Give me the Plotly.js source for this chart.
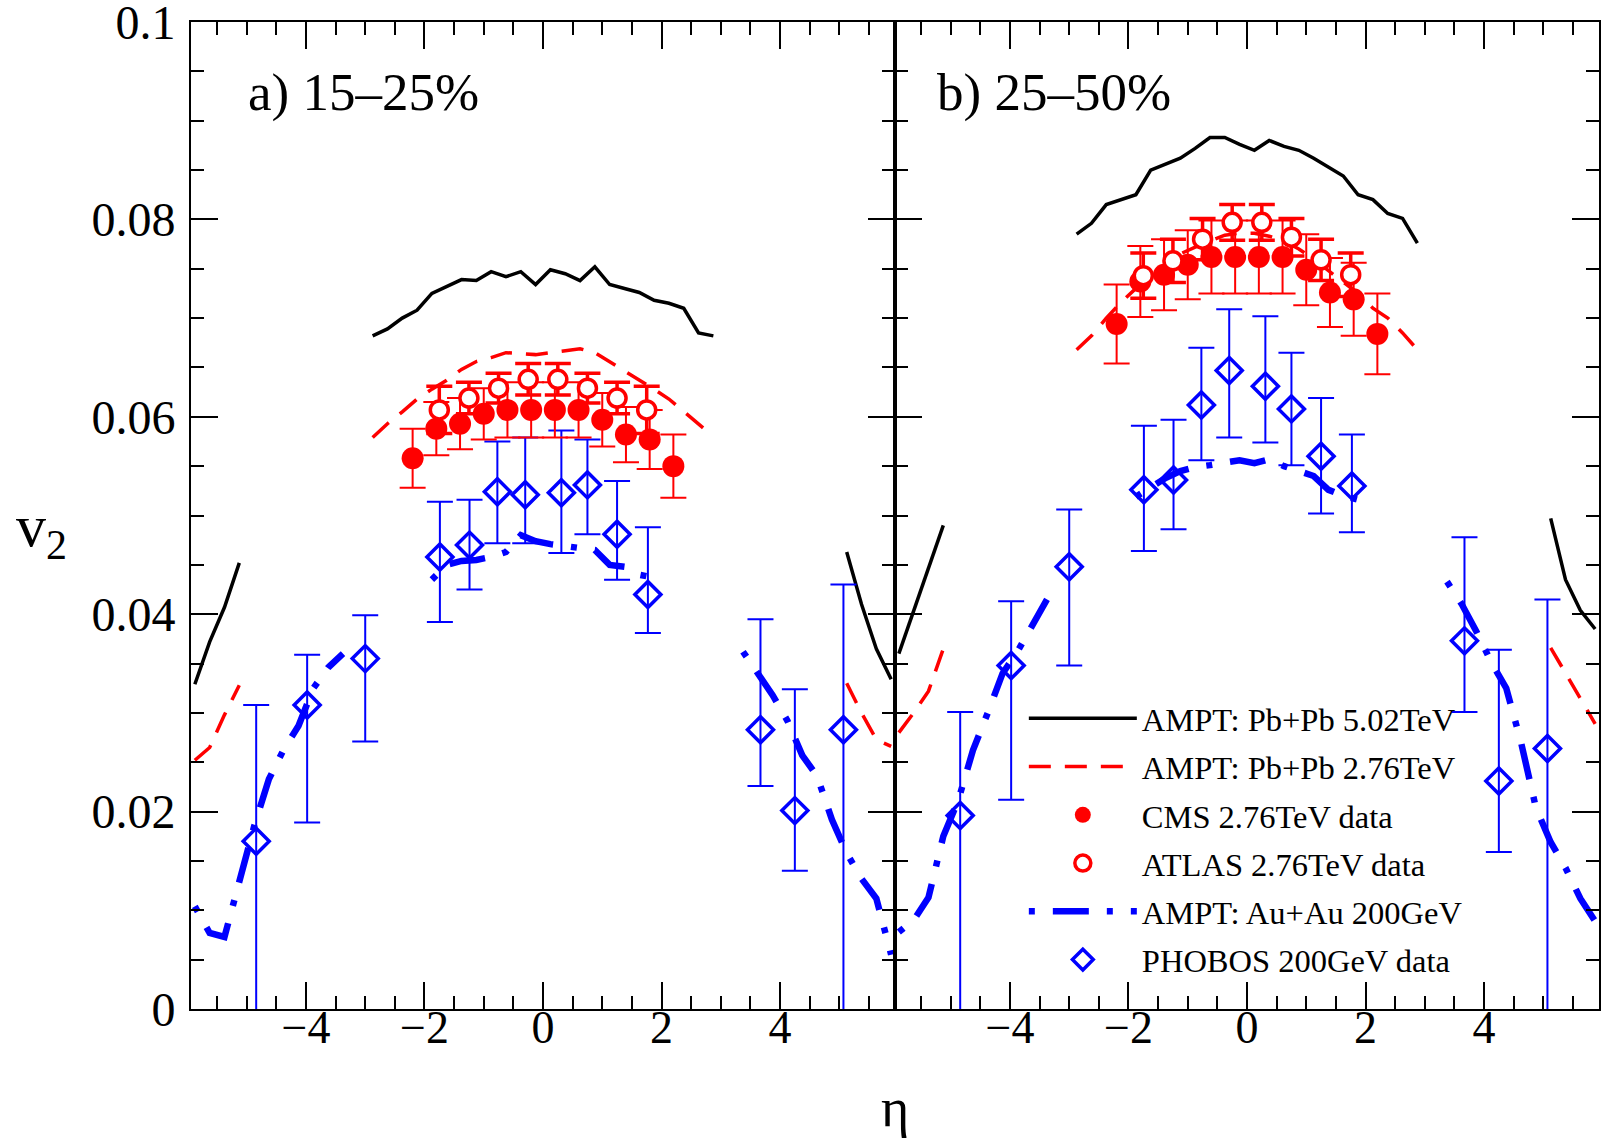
<!DOCTYPE html>
<html><head><meta charset="utf-8">
<script src="https://cdn.plot.ly/plotly-3.0.1.min.js"></script>
<style>html,body{margin:0;padding:0;background:#fff}</style>
</head><body><div id="chart" style="width:1607px;height:1140px"></div>
<script>
// ---------- eta grids for the AMPT curves ----------
const etaWingL = [-5.875,-5.625,-5.375,-5.125];
const etaWingR = [5.125,5.375,5.625,5.875];
const etaMid = [-2.875,-2.625,-2.375,-2.125,-1.875,-1.625,-1.375,-1.125,-0.875,-0.625,-0.375,-0.125,
                0.125,0.375,0.625,0.875,1.125,1.375,1.625,1.875,2.125,2.375,2.625,2.875];
const etaBlueL = [-5.875,-5.625,-5.375,-5.125,-4.875,-4.625,-4.375,-4.125,-3.875,-3.625,-3.375];
const etaBlueMid = [-1.875,-1.625,-1.375,-1.125,-0.875,-0.625,-0.375,-0.125,0.125,0.375,0.625,0.875,1.125,1.375,1.625,1.875];
const etaBlueR = [3.375,3.625,3.875,4.125,4.375,4.625,4.875,5.125,5.375,5.625,5.875];

// ---------- panel a) 15-25% ----------
const pb502_a_L = [0.0329,0.0372,0.0407,0.0452];
const pb502_a_M = [0.0682,0.0689,0.0700,0.0708,0.0725,0.0732,0.0739,0.0738,0.0747,0.0742,0.0747,0.0734,
                   0.0749,0.0745,0.0738,0.0752,0.0734,0.0730,0.0726,0.0718,0.0715,0.0710,0.0685,0.0682];
const pb502_a_R = [0.0463,0.0410,0.0365,0.0334];
const pb276_a_L = [0.0252,0.0265,0.0298,0.0328];
const pb276_a_M = [0.0579,0.0593,0.0605,0.0618,0.0628,0.0637,0.0648,0.0656,0.0660,0.0665,0.0664,0.0663,
                   0.0665,0.0667,0.0669,0.0665,0.0656,0.0647,0.0637,0.0628,0.0618,0.0605,0.0592,0.0580];
const pb276_a_R = [0.0330,0.0300,0.0273,0.0266];
const auau_a_L = [0.0104,0.0077,0.0073,0.0130,0.0185,0.0233,0.0263,0.0287,0.0325,0.0346,0.0360];
const auau_a_M = [0.0435,0.0450,0.0454,0.0455,0.0458,0.0463,0.0480,0.0474,0.0471,0.0469,0.0467,0.0465,0.0450,0.0448,0.0440,0.0437];
const auau_a_R = [0.0362,0.0340,0.0318,0.0292,0.0257,0.0236,0.0192,0.0158,0.0132,0.0112,0.0055];

// ---------- panel b) 25-50% ----------
const pb502_b_L = [0.0360,0.0403,0.0447,0.0490];
const pb502_b_M = [0.0785,0.0796,0.0815,0.0820,0.0825,0.0850,0.0856,0.0862,0.0872,0.0883,0.0883,0.0876,
                   0.0870,0.0880,0.0874,0.0870,0.0862,0.0853,0.0844,0.0825,0.0820,0.0806,0.0801,0.0776];
const pb502_b_R = [0.0497,0.0435,0.0404,0.0385];
const pb276_b_L = [0.0280,0.0300,0.0322,0.0365];
const pb276_b_M = [0.0668,0.0682,0.0700,0.0716,0.0730,0.0740,0.0750,0.0765,0.0772,0.0778,0.0784,0.0786,
                   0.0786,0.0783,0.0778,0.0770,0.0760,0.0748,0.0737,0.0725,0.0710,0.0700,0.0685,0.0668];
const pb276_b_R = [0.0366,0.0340,0.0314,0.0289];
const auau_b_L = [0.0078,0.0090,0.0113,0.0175,0.0211,0.0262,0.0300,0.0340,0.0362,0.0389,0.0415];
const auau_b_M = [0.0519,0.0528,0.0538,0.0545,0.0549,0.0551,0.0553,0.0556,0.0553,0.0557,0.0550,0.0545,0.0540,0.0526,0.0520,0.0516];
const auau_b_R = [0.0433,0.0410,0.0382,0.0351,0.0325,0.0270,0.0204,0.0169,0.0143,0.0112,0.0089];

// ---------- data points ----------
const cmsEta = [-2.2,-1.8,-1.4,-1.0,-0.6,-0.2,0.2,0.6,1.0,1.4,1.8,2.2];
const cms_a = [0.0558,0.0588,0.0593,0.0603,0.0607,0.0607,0.0607,0.0607,0.0597,0.0582,0.0577,0.0550];
const cms_a_err = [0.0030,0.0027,0.0026,0.0026,0.0028,0.0028,0.0028,0.0028,0.0027,0.0028,0.0030,0.0032];
const cms_b = [0.0694,0.0737,0.0744,0.0754,0.0762,0.0762,0.0762,0.0762,0.0749,0.0726,0.0719,0.0684];
const cms_b_err = [0.0040,0.0036,0.0036,0.0035,0.0037,0.0037,0.0037,0.0037,0.0036,0.0035,0.0037,0.0041];

const atlasEta = [-1.75,-1.25,-0.75,-0.25,0.25,0.75,1.25,1.75];
const atlas_a = [0.0607,0.0619,0.0629,0.0638,0.0638,0.0629,0.0619,0.0607];
const atlas_a_err = [0.0024,0.0016,0.0015,0.0016,0.0016,0.0015,0.0016,0.0024];
const atlas_b = [0.0743,0.0758,0.0780,0.0797,0.0797,0.0782,0.0759,0.0744];
const atlas_b_err = [0.0023,0.0022,0.0021,0.0018,0.0018,0.0019,0.0021,0.0022];

const phobosEta = [-4.84,-3.98,-3.0,-1.74,-1.24,-0.77,-0.30,0.31,0.75,1.25,1.77,3.67,4.25,5.07];
const phobos_a = [0.0170,0.0308,0.0355,0.0458,0.0470,0.0524,0.0521,0.0523,0.0531,0.0481,0.0420,0.0283,0.0201,0.0283];
const phobos_a_up = [0.0138,0.0051,0.0044,0.0056,0.0046,0.0051,0.0058,0.0063,0.0046,0.0054,0.0068,0.0112,0.0123,0.0147];
const phobos_a_dn = [0.0250,0.0119,0.0084,0.0066,0.0045,0.0052,0.0049,0.0061,0.0050,0.0046,0.0039,0.0057,0.0061,0.0350];
const phobos_b = [0.0196,0.0348,0.0448,0.0526,0.0536,0.0612,0.0647,0.0631,0.0608,0.0560,0.0530,0.0373,0.0231,0.0264];
const phobos_b_up = [0.0105,0.0065,0.0058,0.0065,0.0061,0.0058,0.0062,0.0071,0.0057,0.0059,0.0052,0.0105,0.0133,0.0151];
const phobos_b_dn = [0.0250,0.0136,0.0100,0.0062,0.0050,0.0056,0.0068,0.0057,0.0057,0.0058,0.0047,0.0072,0.0072,0.0350];

// ---------- axis ticks ----------
const yTickVals = [0, 0.02, 0.04, 0.06, 0.08, 0.1];
const yTickText = ['0', '0.02', '0.04', '0.06', '0.08', '0.1'];
const xTickVals = [-4, -2, 0, 2, 4];
const xTickText = ['\u22124', '\u22122', '0', '2', '4'];

const legendNames = ['AMPT: Pb+Pb 5.02TeV','AMPT: Pb+Pb 2.76TeV','CMS 2.76TeV data','ATLAS 2.76TeV data','AMPT: Au+Au 200GeV','PHOBOS 200GeV data'];

// ---------- helpers ----------
function joinSeg(xs, ys) {
  const X = [], Y = [];
  xs.forEach((xa, i) => {
    if (i > 0) { X.push(null); Y.push(null); }
    X.push(...xa); Y.push(...ys[i]);
  });
  return {x: X, y: Y};
}

const RED = '#ff0000', BLUE = '#0000ff';
const lineBlack = {color: '#000', width: 3.5};
const lineRed = {color: RED, width: 3.5, dash: '22px,14px'};
const lineBlue = {color: BLUE, width: 6.5, dash: '6px,18px,36px,18px'};

function panelTraces(ax, ay, d, showLeg) {
  const t = [];
  const k = joinSeg([etaWingL, etaMid, etaWingR], [d.pb502L, d.pb502M, d.pb502R]);
  t.push({type:'scatter', mode:'lines', x:k.x, y:k.y, xaxis:ax, yaxis:ay, connectgaps:false,
          line:lineBlack, name:legendNames[0], legendrank:1, showlegend:showLeg, legendgroup:'g1'});
  const r = joinSeg([etaWingL, etaMid, etaWingR], [d.pb276L, d.pb276M, d.pb276R]);
  t.push({type:'scatter', mode:'lines', x:r.x, y:r.y, xaxis:ax, yaxis:ay, connectgaps:false,
          line:lineRed, name:legendNames[1], legendrank:2, showlegend:showLeg, legendgroup:'g2'});
  const b = joinSeg([etaBlueL, etaBlueMid, etaBlueR], [d.auauL, d.auauM, d.auauR]);
  t.push({type:'scatter', mode:'lines', x:b.x, y:b.y, xaxis:ax, yaxis:ay, connectgaps:false,
          line:lineBlue, name:legendNames[4], legendrank:5, showlegend:showLeg, legendgroup:'g5'});
  t.push({type:'scatter', mode:'markers', x:phobosEta, y:d.phobos, xaxis:ax, yaxis:ay,
          marker:{symbol:'diamond-open', size:20, color:BLUE, line:{width:3.5, color:BLUE}},
          error_y:{type:'data', symmetric:false, array:d.phobosUp, arrayminus:d.phobosDn, color:BLUE, thickness:2, width:13},
          name:legendNames[5], legendrank:6, showlegend:showLeg, legendgroup:'g6'});
  t.push({type:'scatter', mode:'markers', x:cmsEta, y:d.cms, xaxis:ax, yaxis:ay,
          marker:{symbol:'circle', size:22, color:RED, line:{width:0}},
          error_y:{type:'data', array:d.cmsErr, color:RED, thickness:2, width:13},
          name:legendNames[2], legendrank:3, showlegend:showLeg, legendgroup:'g3'});
  t.push({type:'scatter', mode:'markers', x:atlasEta, y:d.atlas, xaxis:ax, yaxis:ay,
          marker:{symbol:'circle', size:18, color:'#ffffff', line:{width:3.5, color:RED}},
          error_y:{type:'data', array:d.atlasErr, color:RED, thickness:3.5, width:13},
          name:legendNames[3], legendrank:4, showlegend:showLeg, legendgroup:'g4'});
  return t;
}

const data = [].concat(
  panelTraces('x','y', {pb502L:pb502_a_L, pb502M:pb502_a_M, pb502R:pb502_a_R,
                        pb276L:pb276_a_L, pb276M:pb276_a_M, pb276R:pb276_a_R,
                        auauL:auau_a_L, auauM:auau_a_M, auauR:auau_a_R,
                        phobos:phobos_a, phobosUp:phobos_a_up, phobosDn:phobos_a_dn,
                        cms:cms_a, cmsErr:cms_a_err, atlas:atlas_a, atlasErr:atlas_a_err}, true),
  panelTraces('x2','y2', {pb502L:pb502_b_L, pb502M:pb502_b_M, pb502R:pb502_b_R,
                        pb276L:pb276_b_L, pb276M:pb276_b_M, pb276R:pb276_b_R,
                        auauL:auau_b_L, auauM:auau_b_M, auauR:auau_b_R,
                        phobos:phobos_b, phobosUp:phobos_b_up, phobosDn:phobos_b_dn,
                        cms:cms_b, cmsErr:cms_b_err, atlas:atlas_b, atlasErr:atlas_b_err}, false)
);

const FONT = 'Liberation Serif';
const xCommon = {
  range:[-5.94,5.94], tickmode:'array', tickvals:xTickVals, ticktext:xTickText,
  ticks:'inside', ticklen:27, tickwidth:2, tickcolor:'#000',
  minor:{ticks:'inside', dtick:0.5, tick0:0, ticklen:13, tickwidth:2, tickcolor:'#000'},
  showline:true, linecolor:'#000', linewidth:2, mirror:'allticks',
  showgrid:false, zeroline:false, ticklabeloverflow:'allow',
  tickfont:{family:FONT, size:46, color:'#000'}, ticklabelstandoff:-23
};
const yCommon = {
  range:[0,0.1], tickmode:'array', tickvals:yTickVals, ticktext:yTickText,
  ticks:'inside', ticklen:27, tickwidth:2, tickcolor:'#000',
  minor:{ticks:'inside', dtick:0.005, tick0:0, ticklen:13, tickwidth:2, tickcolor:'#000'},
  showline:true, linecolor:'#000', linewidth:2, mirror:'allticks',
  showgrid:false, zeroline:false, ticklabeloverflow:'allow',
  tickfont:{family:FONT, size:48, color:'#000'}, ticklabelstandoff:4
};

const layout = {
  width:1607, height:1140,
  margin:{l:191, r:8, t:22, b:131, pad:0},
  paper_bgcolor:'#fff', plot_bgcolor:'#fff',
  font:{family:FONT, color:'#000'},
  xaxis: Object.assign({}, xCommon, {domain:[0,0.5], anchor:'y'}),
  xaxis2: Object.assign({}, xCommon, {domain:[0.5,1], anchor:'y2'}),
  yaxis: Object.assign({}, yCommon, {anchor:'x'}),
  yaxis2: Object.assign({}, yCommon, {anchor:'x2', matches:'y', showticklabels:false}),
  showlegend:true,
  legend:{x:0.5915, y:0.3225, xanchor:'left', yanchor:'top', bgcolor:'rgba(0,0,0,0)',
          font:{family:FONT, size:32.5, color:'#000'}, itemwidth:108, traceorder:'grouped',
          tracegroupgap:3},
  annotations:[
    {text:'a) 15\u201325%', xref:'paper', yref:'paper', x:0.0390, y:0.929, xanchor:'left', yanchor:'middle',
     showarrow:false, font:{family:FONT, size:53, color:'#000'}},
    {text:'b) 25\u201350%', xref:'paper', yref:'paper', x:0.5285, y:0.929, xanchor:'left', yanchor:'middle',
     showarrow:false, font:{family:FONT, size:53, color:'#000'}},
    {text:'\u03b7', xref:'paper', yref:'paper', x:0.5, y:-0.100, xanchor:'center', yanchor:'middle',
     showarrow:false, font:{family:FONT, size:54, color:'#000'}},
    {text:'v<sub>2</sub>', xref:'paper', yref:'paper', x:-0.106, y:0.485, xanchor:'center', yanchor:'middle',
     showarrow:false, font:{family:FONT, size:60, color:'#000'}}
  ]
};

Plotly.newPlot('chart', data, layout, {staticPlot:true, displayModeBar:false});
</script>
</body></html>
